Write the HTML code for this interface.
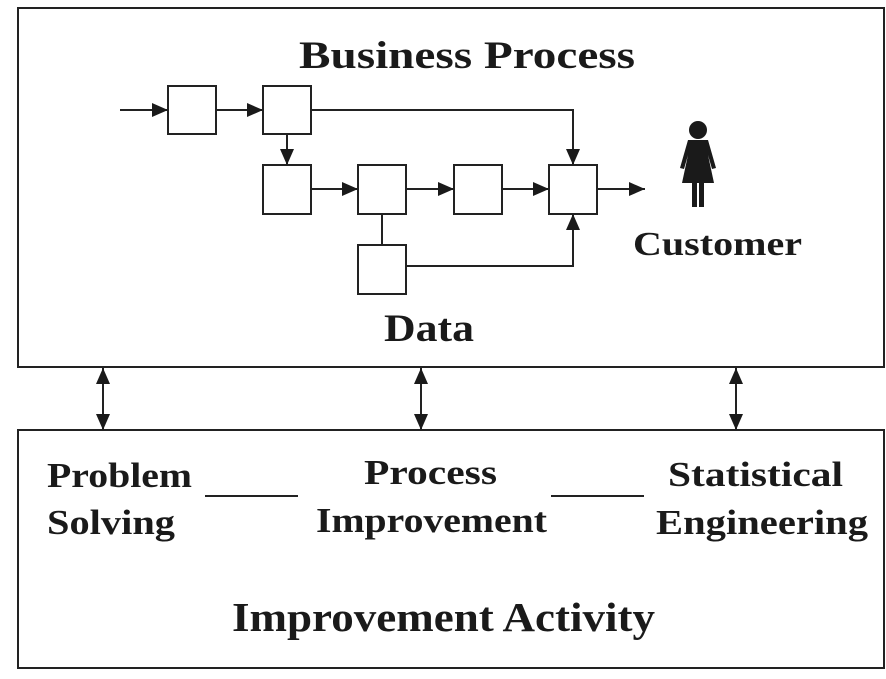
<!DOCTYPE html>
<html><head><meta charset="utf-8"><style>
body{margin:0;background:#fff;}
svg{display:block}
text{font-family:"Liberation Serif",serif;font-weight:bold;fill:#1a1a1a}
</style></head><body>
<svg width="886" height="679" viewBox="0 0 886 679">
<defs>
<marker id="b" viewBox="0 0 16 14" markerWidth="16" markerHeight="14" refX="16" refY="7" orient="auto-start-reverse" markerUnits="userSpaceOnUse"><path d="M0,0 L16,7 L0,14 z" fill="#1a1a1a"/></marker></defs>
<g fill="none" stroke="#222" stroke-width="2">
<rect x="18" y="8" width="866" height="359"/>
<rect x="18" y="430" width="866" height="238"/>
<rect x="168" y="86" width="48" height="48"/>
<rect x="263" y="86" width="48" height="48"/>
<rect x="263" y="165" width="48" height="49"/>
<rect x="358" y="165" width="48" height="49"/>
<rect x="454" y="165" width="48" height="49"/>
<rect x="549" y="165" width="48" height="49"/>
<rect x="358" y="245" width="48" height="49"/>
<path d="M120 110H168" marker-end="url(#b)"/>
<path d="M216 110H263" marker-end="url(#b)"/>
<path d="M287 134V165" marker-end="url(#b)"/>
<path d="M311 110H573V165" marker-end="url(#b)"/>
<path d="M311 189H358" marker-end="url(#b)"/>
<path d="M406 189H454" marker-end="url(#b)"/>
<path d="M502 189H549" marker-end="url(#b)"/>
<path d="M597 189H645" marker-end="url(#b)"/>
<path d="M382 214V245"/>
<path d="M406 266H573V214" marker-end="url(#b)"/>
<path d="M103 368V430" marker-start="url(#b)" marker-end="url(#b)"/>
<path d="M421 368V430" marker-start="url(#b)" marker-end="url(#b)"/>
<path d="M736 368V430" marker-start="url(#b)" marker-end="url(#b)"/>
<path d="M205 496H298"/>
<path d="M551 496H644"/>
</g>
<g fill="#1a1a1a">
<circle cx="698" cy="130" r="9"/>
<path d="M688 140 H708 L716 168 L712 169 L708 155 L714 183 H704 L704 207 H699 L699 183 H697 L697 207 H692 L692 183 H682 L688 155 L684 169 L680 168 Z"/>
</g>
<text x="299" y="68" font-size="39" textLength="336" lengthAdjust="spacingAndGlyphs">Business Process</text>
<text x="633" y="255" font-size="34" textLength="169" lengthAdjust="spacingAndGlyphs">Customer</text>
<text x="384" y="341" font-size="39" textLength="90" lengthAdjust="spacingAndGlyphs">Data</text>
<text x="47" y="487" font-size="35" textLength="145" lengthAdjust="spacingAndGlyphs">Problem</text>
<text x="47" y="534" font-size="35" textLength="128" lengthAdjust="spacingAndGlyphs">Solving</text>
<text x="364" y="484" font-size="35" textLength="133" lengthAdjust="spacingAndGlyphs">Process</text>
<text x="316" y="532" font-size="35" textLength="231" lengthAdjust="spacingAndGlyphs">Improvement</text>
<text x="668" y="486" font-size="35" textLength="175" lengthAdjust="spacingAndGlyphs">Statistical</text>
<text x="656" y="534" font-size="35" textLength="212" lengthAdjust="spacingAndGlyphs">Engineering</text>
<text x="232" y="631" font-size="41" textLength="423" lengthAdjust="spacingAndGlyphs">Improvement Activity</text>
</svg>
</body></html>
